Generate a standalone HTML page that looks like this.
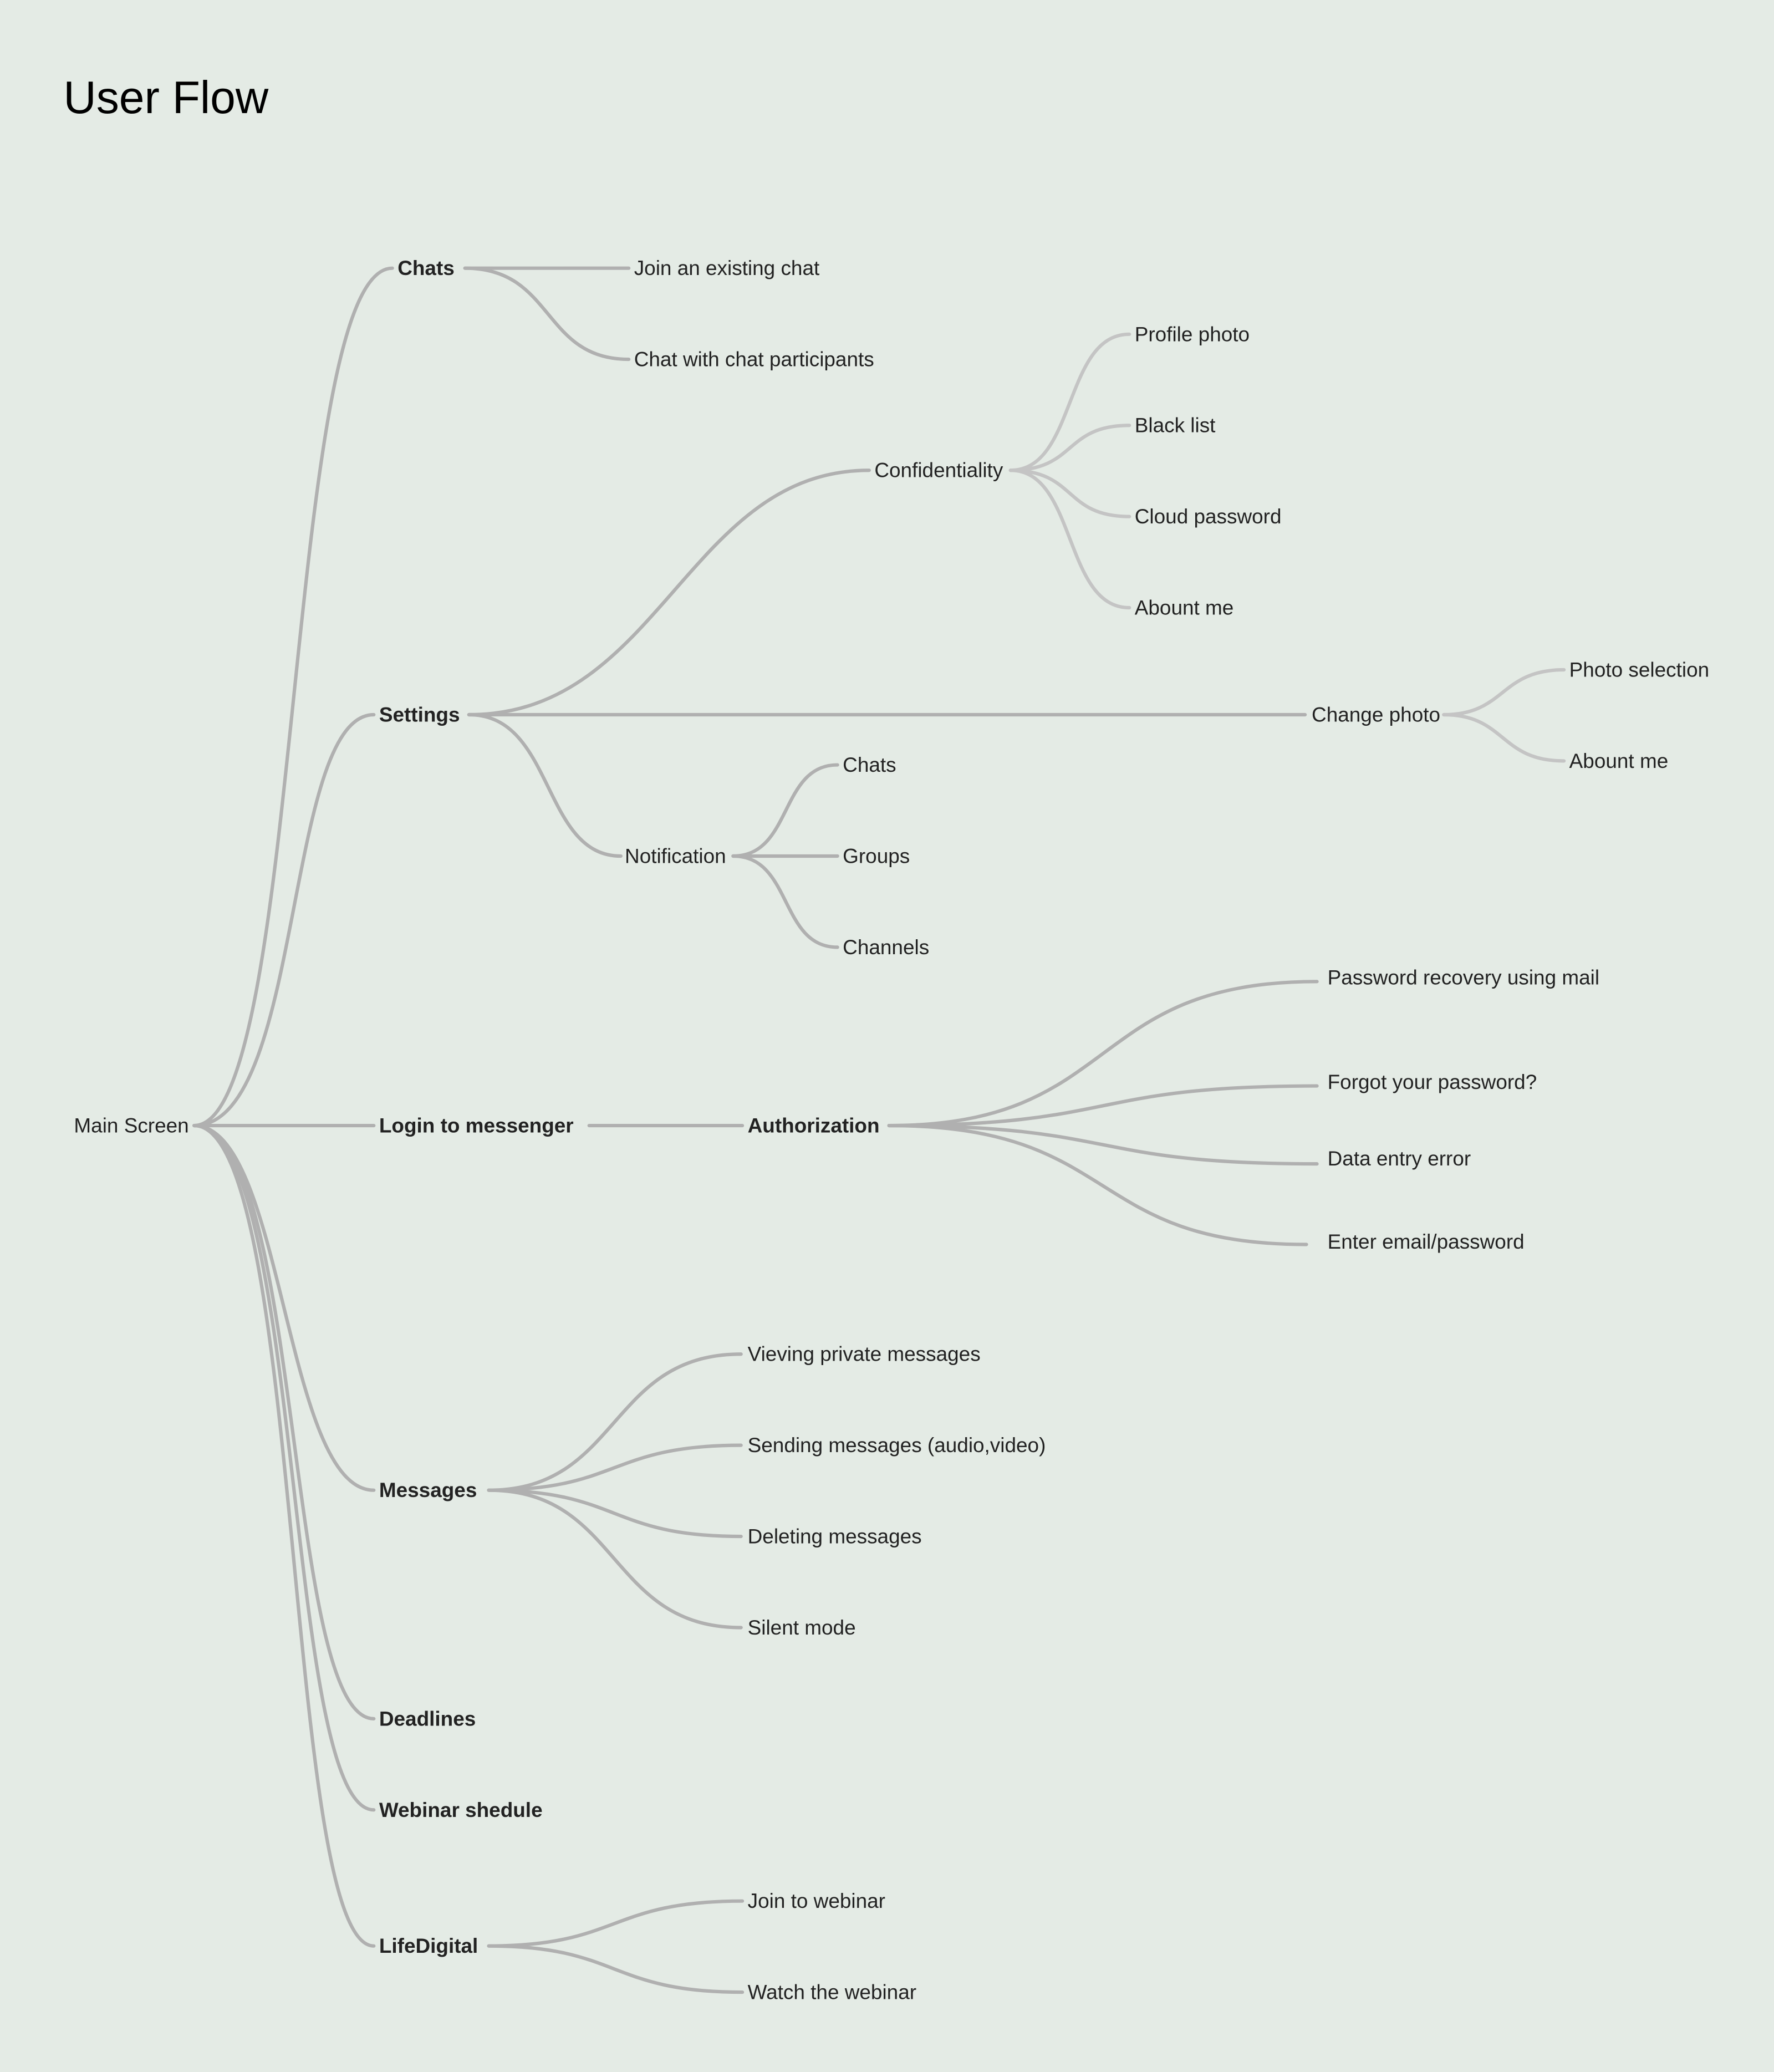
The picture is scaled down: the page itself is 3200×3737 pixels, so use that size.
<!DOCTYPE html>
<html><head><meta charset="utf-8"><style>
html,body{margin:0;padding:0;background:#e4ebe5;}
svg{display:block;}
text{font-family:"Liberation Sans",sans-serif;font-size:15.5px;fill:#222;dominant-baseline:central;}
.b{font-weight:bold;}
.t{font-size:34.5px;fill:#000;}
path{fill:none;stroke:#b0b0b0;stroke-width:2.6;stroke-linecap:round;}
.l{stroke:#c4c4c4;}
</style></head><body>
<svg width="3200" height="3737" viewBox="0 0 1343 1568.4" preserveAspectRatio="none" xmlns="http://www.w3.org/2000/svg">
<rect width="1343" height="1569" fill="#e4ebe5"/>
<text class="t" x="48" y="74">User Flow</text>

<path d="M147 852 C230 852 215 203 297 203"/>
<path d="M147 852 C230 852 215 541 283 541"/>
<path d="M147 852 L283 852"/>
<path d="M147 852 C215 852 215 1128 283 1128"/>
<path d="M147 852 C230 852 215 1301 283 1301"/>
<path d="M147 852 C230 852 215 1370 283 1370"/>
<path d="M147 852 C230 852 215 1473 283 1473"/>

<text x="56" y="852">Main Screen</text>
<text class="b" x="301" y="203">Chats</text>
<text class="b" x="287" y="541">Settings</text>
<text class="b" x="287" y="852">Login to messenger</text>
<text class="b" x="287" y="1128">Messages</text>
<text class="b" x="287" y="1301">Deadlines</text>
<text class="b" x="287" y="1370">Webinar shedule</text>
<text class="b" x="287" y="1473">LifeDigital</text>

<path d="M352 203 L476 203"/>
<path d="M352 203 C420 203 410 272 476 272"/>
<text x="480" y="203">Join an existing chat</text>
<text x="480" y="272">Chat with chat participants</text>

<path d="M355 541 C500 541 520 356 658 356"/>
<path d="M355 541 L988 541"/>
<path d="M355 541 C420 541 410 648 470 648"/>
<text x="662" y="356">Confidentiality</text>
<text x="993" y="541">Change photo</text>
<text x="473" y="648">Notification</text>

<path class="l" d="M765 356 C815 356 805 253 855 253"/>
<path class="l" d="M765 356 C815 356 805 322 855 322"/>
<path class="l" d="M765 356 C815 356 805 391 855 391"/>
<path class="l" d="M765 356 C815 356 805 460 855 460"/>
<text x="859" y="253">Profile photo</text>
<text x="859" y="322">Black list</text>
<text x="859" y="391">Cloud password</text>
<text x="859" y="460">Abount me</text>

<path class="l" d="M1093 541 C1140 541 1135 507 1184 507"/>
<path class="l" d="M1093 541 C1140 541 1135 576 1184 576"/>
<text x="1188" y="507">Photo selection</text>
<text x="1188" y="576">Abount me</text>

<path d="M555 648 C600 648 590 579 634 579"/>
<path d="M555 648 L634 648"/>
<path d="M555 648 C600 648 590 717 634 717"/>
<text x="638" y="579">Chats</text>
<text x="638" y="648">Groups</text>
<text x="638" y="717">Channels</text>

<path d="M446 852 L562 852"/>
<text class="b" x="566" y="852">Authorization</text>
<path d="M673 852 C850 852 820 743 997 743"/>
<path d="M673 852 C850 852 820 822 997 822"/>
<path d="M673 852 C850 852 820 881 997 881"/>
<path d="M673 852 C850 852 820 942 989 942"/>
<text x="1005" y="740">Password recovery using mail</text>
<text x="1005" y="819">Forgot your password?</text>
<text x="1005" y="877">Data entry error</text>
<text x="1005" y="940">Enter email/password</text>

<path d="M370 1128 C470 1128 460 1025 561 1025"/>
<path d="M370 1128 C470 1128 460 1094 561 1094"/>
<path d="M370 1128 C470 1128 460 1163 561 1163"/>
<path d="M370 1128 C470 1128 460 1232 561 1232"/>
<text x="566" y="1025">Vieving private messages</text>
<text x="566" y="1094">Sending messages (audio,video)</text>
<text x="566" y="1163">Deleting messages</text>
<text x="566" y="1232">Silent mode</text>

<path d="M370 1473 C470 1473 460 1439 562 1439"/>
<path d="M370 1473 C470 1473 460 1508 562 1508"/>
<text x="566" y="1439">Join to webinar</text>
<text x="566" y="1508">Watch the webinar</text>
</svg>
</body></html>
